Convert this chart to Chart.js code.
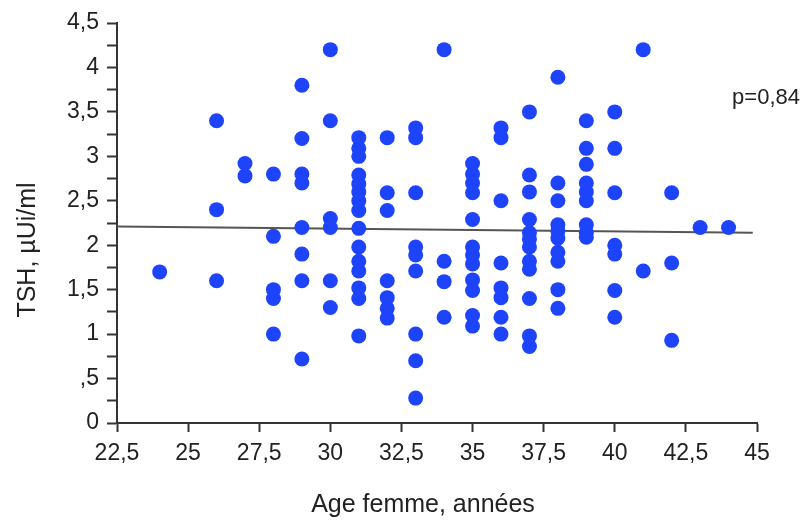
<!DOCTYPE html>
<html>
<head>
<meta charset="utf-8">
<script src="https://cdn.jsdelivr.net/npm/chart.js@4"></script>
<style>
  html, body { margin: 0; padding: 0; background: #fff; }
  #wrap { width: 806px; height: 520px; position: relative; }
</style>
</head>
<body>
<div id="wrap"><canvas id="tshChart"></canvas></div>
<script>
// age (years) -> TSH values
const ages = [24, 26, 27, 28, 29, 30, 31, 32, 33, 34, 35, 36, 37, 38, 39, 40, 41, 42, 43, 44];
const tshByAge = [
    [1.7],
    [3.4, 2.4, 1.6],
    [2.92, 2.78],
    [2.8, 2.1, 1.5, 1.4, 1.0],
    [3.8, 3.2, 2.8, 2.7, 2.2, 1.9, 1.6, 0.72],
    [4.2, 3.4, 2.3, 2.2, 1.6, 1.3],
    [3.21, 3.09, 3.0, 2.79, 2.69, 2.6, 2.5, 2.39, 2.19, 1.98, 1.82, 1.71, 1.52, 1.4, 0.98],
    [3.21, 2.59, 2.39, 1.6, 1.41, 1.29, 1.18],
    [3.32, 3.21, 2.59, 1.98, 1.89, 1.71, 1.0, 0.7, 0.28],
    [4.2, 1.82, 1.59, 1.19],
    [2.92, 2.8, 2.7, 2.59, 2.29, 1.98, 1.89, 1.79, 1.61, 1.49, 1.21, 1.09],
    [3.32, 3.21, 2.5, 1.8, 1.52, 1.41, 1.19, 1.0],
    [3.5, 2.79, 2.6, 2.29, 2.14, 2.07, 1.98, 1.82, 1.73, 1.4, 0.98, 0.86],
    [3.89, 2.7, 2.5, 2.23, 2.16, 2.08, 1.92, 1.82, 1.5, 1.29],
    [3.4, 3.09, 2.91, 2.7, 2.6, 2.5, 2.23, 2.14, 2.09],
    [3.5, 3.09, 2.59, 2.0, 1.9, 1.49, 1.19],
    [4.2, 1.71],
    [2.59, 1.8, 0.93],
    [2.2],
    [2.2]
];
// regression line end points
const trendX = [22.5, 44.85];
const trendY = [2.21, 2.14];
const pValueText = 'p=0,84';

const points = [];
ages.forEach((a, i) => tshByAge[i].forEach(v => points.push({ x: a, y: v })));
const trend = trendX.map((x, i) => ({ x: x, y: trendY[i] }));

const FONT = "'Liberation Sans', Arial, sans-serif";
const fmt = (v) => {
    let s = String(Math.round(v * 100) / 100).replace('.', ',');
    if (s.startsWith('0,')) s = s.slice(1);
    return s;
};

// axis titles + p value
const extraText = {
    id: 'extraText',
    afterDraw(chart) {
        const ctx = chart.ctx;
        const area = chart.chartArea;
        const y = chart.scales.y;
        ctx.save();
        ctx.fillStyle = '#222';
        ctx.font = '22px ' + FONT;
        ctx.textBaseline = 'middle';
        ctx.textAlign = 'right';
        ctx.fillText(pValueText, chart.width - 6, y.getPixelForValue(3.66));

        ctx.font = '25px ' + FONT;
        ctx.textAlign = 'center';
        ctx.textBaseline = 'alphabetic';
        ctx.fillText('Age femme, années', (area.left + area.right) / 2 - 14, chart.height - 8);

        ctx.translate(35, (area.top + area.bottom) / 2 + 27);
        ctx.rotate(-Math.PI / 2);
        ctx.fillText('TSH, µUi/ml', 0, 0);
        ctx.restore();
    }
};

new Chart(document.getElementById('tshChart'), {
    type: 'scatter',
    data: {
        datasets: [
            {
                label: 'TSH',
                data: points,
                backgroundColor: '#1e44fb',
                borderWidth: 0,
                pointRadius: 7.5,
                pointHoverRadius: 7.5,
                order: 0
            },
            {
                type: 'line',
                label: 'tendance',
                data: trend,
                borderColor: '#555',
                borderWidth: 2,
                pointRadius: 0,
                fill: false,
                order: 1
            }
        ]
    },
    options: {
        responsive: true,
        maintainAspectRatio: false,
        animation: false,
        layout: { padding: { left: 0, right: 49, top: 23, bottom: 0 } },
        scales: {
            x: {
                type: 'linear',
                min: 22.5,
                max: 45,
                afterFit: (s) => { s.height = 97; },
                border: { display: true, color: '#333', width: 2 },
                grid: { drawOnChartArea: false, drawTicks: true, tickLength: 9, tickColor: '#333', tickWidth: 2 },
                ticks: {
                    stepSize: 2.5,
                    autoSkip: false,
                    maxRotation: 0,
                    padding: 8,
                    color: '#222',
                    font: { family: FONT, size: 23 },
                    callback: (v) => fmt(v)
                }
            },
            y: {
                min: 0,
                max: 4.5,
                afterFit: (s) => { s.width = 117; },
                border: { display: true, color: '#333', width: 2 },
                grid: { drawOnChartArea: false, drawTicks: true, tickLength: 10, tickColor: '#333', tickWidth: 2 },
                ticks: {
                    stepSize: 0.25,
                    autoSkip: false,
                    padding: 8,
                    color: '#222',
                    font: { family: FONT, size: 23 },
                    callback: (v) => (Math.abs(v * 2 - Math.round(v * 2)) < 1e-6 ? fmt(v) : '')
                }
            }
        },
        plugins: {
            legend: { display: false },
            tooltip: { enabled: false }
        }
    },
    plugins: [extraText]
});
</script>
</body>
</html>
